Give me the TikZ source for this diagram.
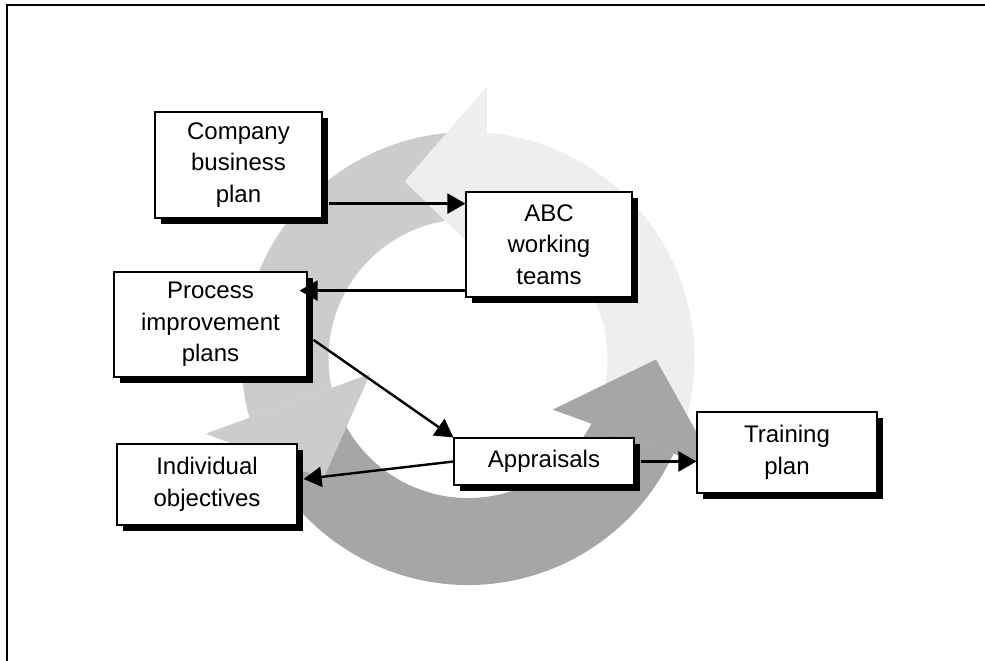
\documentclass[tikz,border=0pt]{standalone}
\usepackage{fontspec}
\setsansfont{Liberation Sans}
\usetikzlibrary{calc,arrows.meta,shadows}

\definecolor{ringlight}{HTML}{EEEEEE}
\definecolor{ringmid}{HTML}{CCCCCC}
\definecolor{ringdark}{HTML}{A6A6A6}

\begin{document}
\begin{tikzpicture}[x=1pt,y=1pt,>={Triangle[length=18pt,width=20pt]},
  box/.style={draw,line width=1.2pt,fill=white,align=center,inner sep=0pt,
    font=\sffamily\fontsize{24}{31.5}\selectfont,
    drop shadow={shadow xshift=6pt,shadow yshift=-6pt,fill=black,opacity=1}},
  link/.style={->,line width=2.4pt}]
  \useasboundingbox (0,0) rectangle (985,661);
  \draw[line width=2pt] (7,0) -- (7,656) -- (985,656);

  \coordinate (O) at (468,302.5);
  \begin{scope}[shift={(O)}]
    % ring bodies
    \fill[ringlight] (-20:226.5) arc[start angle=-20,end angle=85.2,radius=226.5]
      -- (82.2:139.5) arc[start angle=82.2,end angle=-20,radius=139.5] -- cycle;
    \fill[ringmid] (90:226.5) arc[start angle=90,end angle=195.2,radius=226.5]
      -- (192.2:139.5) arc[start angle=192.2,end angle=90,radius=139.5] -- cycle;
    \fill[ringdark] (200:226.5) arc[start angle=200,end angle=335.2,radius=226.5]
      -- (332.2:139.5) arc[start angle=332.2,end angle=200,radius=139.5] -- cycle;
    % ring heads
    \fill[ringlight] (78.9:99) -- (86:273) -- (109.7:188) -- cycle;
    \fill[ringmid] (188.9:99) -- (196:273) -- (219.7:188) -- cycle;
    \fill[ringdark] (328.9:99) -- (336:273) -- (359.7:188) -- cycle;
  \end{scope}

  \node[box,minimum width=167,minimum height=106] (comp) at (238.5,496) {Company\\business\\plan};
  \node[box,minimum width=166,minimum height=105] (abc) at (549,416.5) {ABC\\working\\teams};
  \node[box,minimum width=193,minimum height=105] (proc) at (210.5,336.5) {Process\\improvement\\plans};
  \node[box,minimum width=180,minimum height=81] (indiv) at (207,176.5) {Individual\\objectives};
  \node[box,minimum width=180,minimum height=47] (appr) at (544,199.5) {Appraisals};
  \node[box,minimum width=180,minimum height=81] (train) at (787,208.5) {Training\\plan};

  \coordinate (c1) at ($(comp.south east)+(6,15)$);
  \draw[link] (c1) -- (c1 -| abc.west);
  \coordinate (c2) at ($(abc.south west)+(0,7)$);
  \draw[link,shorten >=-8pt] (c2) -- (c2 -| proc.east);
  \draw[link] ($(proc.east)+(6,-15.5)$) -- (appr.north west);
  \draw[link] (appr.west) -- ($(indiv.east)+(6,5.5)$);
  \draw[link] ($(appr.east)+(6,0)$) -- (appr.east -| train.west);
\end{tikzpicture}
\end{document}
